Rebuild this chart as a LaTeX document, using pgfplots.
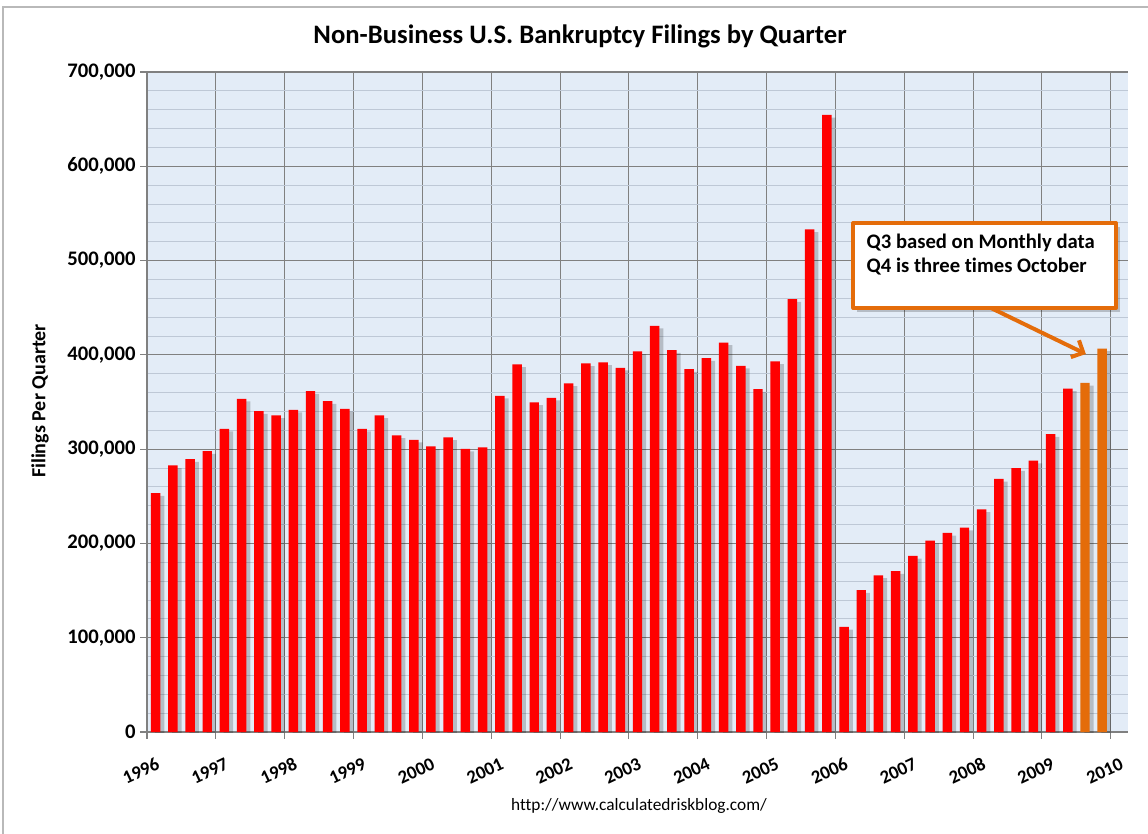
\documentclass[border=0pt]{standalone}
\usepackage{pgfplots}
\pgfplotsset{compat=1.18}
\usepackage{pgfplotstable}
\usepackage{fontspec}
\setmainfont{Carlito}[Ligatures=NoCommon]
\usetikzlibrary{arrows.meta}

\definecolor{bgblue}{RGB}{227,236,247}
\definecolor{gridgray}{RGB}{128,128,128}
\definecolor{minorgray}{RGB}{190,200,214}
\definecolor{barred}{RGB}{255,0,0}
\definecolor{barorange}{RGB}{228,108,10}

% quarters since 1996 Q1 (bar centres), filings per quarter
\pgfplotstableread{
x y
0.5 253400
1.5 282700
2.5 289400
3.5 297900
4.5 321600
5.5 353400
6.5 340300
7.5 335700
8.5 341700
9.5 361500
10.5 350900
11.5 342800
12.5 321600
13.5 335700
14.5 314500
15.5 309900
16.5 302900
17.5 312400
18.5 300400
19.5 301800
20.5 356600
21.5 389800
22.5 349500
23.5 354500
24.5 369700
25.5 390900
26.5 391900
27.5 386300
28.5 403600
29.5 430800
30.5 405000
31.5 384900
32.5 396500
33.5 413100
34.5 388400
35.5 363700
36.5 393000
37.5 459000
38.5 533000
39.5 654500
40.5 111500
41.5 150500
42.5 166100
43.5 170600
44.5 186700
45.5 202900
46.5 211200
47.5 216700
48.5 236100
49.5 268400
50.5 279900
51.5 287700
52.5 315900
53.5 364300
}\redtab

% 2009 Q3 and Q4 (estimates)
\pgfplotstableread{
x y
54.5 370300
55.5 406700
}\orangetab

\begin{document}
\begin{tikzpicture}
\useasboundingbox (-110.25pt,-75.75pt) rectangle (750.75pt,549pt);
\draw[gray!55, line width=0.8pt] (-108pt,-80pt) rectangle (760pt,543.75pt);

\begin{axis}[
    at={(0,0)}, anchor=south west,
    scale only axis,
    width=735.75pt, height=495pt,
    xmin=0, xmax=57,
    ymin=0, ymax=700000,
    axis background/.style={fill=bgblue},
    axis x line*=bottom,
    axis y line*=left,
    axis line style={draw=gridgray, line width=1pt},
    xtick={0,4,...,56},
    xticklabels={1996,1997,1998,1999,2000,2001,2002,2003,2004,2005,2006,2007,2008,2009,2010},
    ytick={0,100000,...,700000},
    yticklabels={0,{100,000},{200,000},{300,000},{400,000},{500,000},{600,000},{700,000}},
    minor ytick={20000,40000,...,680000},
    scaled y ticks=false,
    xmajorgrids, ymajorgrids, yminorgrids,
    major grid style={draw=gridgray, line width=0.8pt},
    minor grid style={draw=minorgray, line width=0.6pt},
    tick align=outside,
    major tick length=5pt,
    minor tick length=0pt,
    tick style={draw=gridgray, line width=0.8pt},
    yticklabel style={font=\bfseries\fontsize{15.5}{18}\selectfont},
    xticklabel style={font=\bfseries\fontsize{14}{16}\selectfont,
        xshift=8pt, yshift=-9pt, anchor=north east, rotate=25},
]
% shadows
\addplot[ybar, bar width=0.55, bar shift=3pt, fill=black, opacity=0.2,
    draw=none, yshift=-2pt] table[x=x,y=y]{\redtab};
\addplot[ybar, bar width=0.55, bar shift=3pt, fill=black, opacity=0.2,
    draw=none, yshift=-2pt] table[x=x,y=y]{\orangetab};
% bars
\addplot[ybar, bar width=0.55, fill=barred, draw=none] table[x=x,y=y]{\redtab};
\addplot[ybar, bar width=0.55, fill=barorange, draw=none] table[x=x,y=y]{\orangetab};

% callout
\fill[black, opacity=0.2] ([xshift=3pt,yshift=-3pt]axis cs:41.04,539850)
    rectangle ([xshift=3pt,yshift=-3pt]axis cs:56.29,449700);
\draw[barorange, line width=3pt, fill=white, line join=round]
    (axis cs:41.04,539850) rectangle (axis cs:56.29,449700);
\node[anchor=west, inner sep=0pt, font=\bfseries\fontsize{15.5}{18}\selectfont]
    at (axis cs:41.8,518600) {Q3 based on Monthly data};
\node[anchor=west, inner sep=0pt, font=\bfseries\fontsize{15.5}{18}\selectfont]
    at (axis cs:41.8,493200) {Q4 is three times October};
\draw[barorange, line width=3pt, -{Straight Barb[length=7pt,width=14pt]}]
    (axis cs:49.04,449700) -- (axis cs:54.55,400900);
\end{axis}

\node[font=\bfseries\fontsize{20}{24}\selectfont] at (324.75pt,522pt)
    {Non-Business U.S. Bankruptcy Filings by Quarter};
\node[font=\bfseries\fontsize{15}{18}\selectfont, rotate=90] at (-80.25pt,248.25pt)
    {Filings Per Quarter};
\node[font=\fontsize{13}{16}\selectfont] at (369pt,-55.5pt)
    {http://www.calculatedriskblog.com/};
\end{tikzpicture}
\end{document}
